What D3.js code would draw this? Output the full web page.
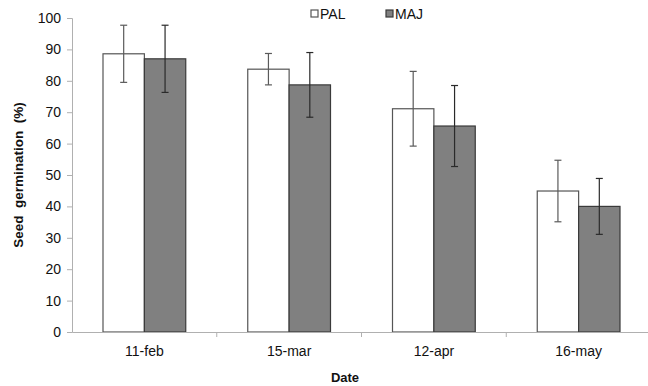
<!DOCTYPE html>
<html><head><meta charset="utf-8">
<script src="https://cdn.jsdelivr.net/npm/d3@7"></script>
<style>body{margin:0;background:#fff}svg{display:block}text{font-family:"Liberation Sans",Arial,sans-serif}</style>
</head><body>
<svg id="c" width="648" height="386"></svg>
<script>
const categories = ["11-feb","15-mar","12-apr","16-may"];
const series = ["PAL","MAJ"];
const palValues = [88.6, 83.7, 71.1, 44.9];
const palErrors = [9.1, 5.0, 11.9, 9.8];
const majValues = [87.0, 78.7, 65.6, 40.0];
const majErrors = [10.7, 10.3, 12.9, 8.9];
const yTicks = [0,10,20,30,40,50,60,70,80,90,100];

(function(){
const svg = d3.select("#c");
const mLeft = 72, mRight = 651, mTop = 18, mBottom = 332;
const x = d3.scaleBand().domain(categories).range([mLeft, mRight]).padding(0);
const inner = d3.scaleBand().domain(series).range([31, x.bandwidth() - 31]).padding(0);
const y = d3.scaleLinear().domain([0,100]).range([mBottom, mTop]);

const data = [];
categories.forEach((c,i)=>{
  data.push({c, s:"PAL", v:palValues[i], e:palErrors[i]});
  data.push({c, s:"MAJ", v:majValues[i], e:majErrors[i]});
});
const fill = {PAL:"#ffffff", MAJ:"#808080"};
const stroke = {PAL:"#555555", MAJ:"#3a3a3a"};
const errColor = {PAL:"#5a5a5a", MAJ:"#2a2a2a"};

// y axis
const ya = svg.append("g").attr("transform",`translate(${mLeft},0)`)
  .call(d3.axisLeft(y).tickValues(yTicks).tickSize(5).tickPadding(6));
ya.selectAll("path,line").attr("stroke","#b0b0b0");
ya.selectAll("text").attr("font-size",14).attr("fill","#111");

// bars
svg.append("g").selectAll("rect").data(data).join("rect")
  .attr("x", d=>x(d.c)+inner(d.s))
  .attr("y", d=>y(d.v))
  .attr("width", inner.bandwidth())
  .attr("height", d=>y(0)-y(d.v))
  .attr("fill", d=>fill[d.s])
  .attr("stroke", d=>stroke[d.s])
  .attr("stroke-width", 1.2);

// error bars
const eg = svg.append("g").selectAll("g").data(data).join("g")
  .attr("stroke", d=>errColor[d.s]).attr("stroke-width",1.2);
const cx = d=>x(d.c)+inner(d.s)+inner.bandwidth()/2;
eg.append("line").attr("x1",cx).attr("x2",cx).attr("y1",d=>y(d.v+d.e)).attr("y2",d=>y(d.v-d.e));
eg.append("line").attr("x1",d=>cx(d)-3.5).attr("x2",d=>cx(d)+3.5).attr("y1",d=>y(d.v+d.e)).attr("y2",d=>y(d.v+d.e));
eg.append("line").attr("x1",d=>cx(d)-3.5).attr("x2",d=>cx(d)+3.5).attr("y1",d=>y(d.v-d.e)).attr("y2",d=>y(d.v-d.e));

// x axis
const xa = svg.append("g").attr("transform",`translate(0,${mBottom})`)
  .call(d3.axisBottom(x).tickSize(0).tickPadding(14));
xa.select(".domain").attr("stroke","#b0b0b0");
xa.selectAll("text").attr("font-size",14).attr("fill","#111");
svg.append("g").selectAll("line").data(categories.slice(1)).join("line")
  .attr("x1",d=>x(d)).attr("x2",d=>x(d)).attr("y1",mBottom).attr("y2",mBottom+5)
  .attr("stroke","#b0b0b0");

// titles
svg.append("text").attr("x",345).attr("y",382).attr("text-anchor","middle")
  .attr("font-size",13).attr("font-weight","bold").attr("fill","#111").text("Date");
svg.append("text").attr("transform","translate(23,175) rotate(-90)").attr("text-anchor","middle")
  .attr("font-size",13.5).attr("font-weight","bold").attr("fill","#111")
  .style("white-space","pre").text("Seed  germination  (%)");

// legend
const lx = {PAL:311, MAJ:386};
const lg = svg.append("g").selectAll("g").data(series).join("g");
lg.append("rect").attr("x",d=>lx[d]).attr("y",10).attr("width",7).attr("height",7)
  .attr("fill",d=>fill[d]).attr("stroke",d=>stroke[d]).attr("stroke-width",1.2);
lg.append("text").attr("x",d=>lx[d]+9).attr("y",18.5).attr("font-size",14).attr("fill","#111").text(d=>d);
})();
</script>
</body></html>
